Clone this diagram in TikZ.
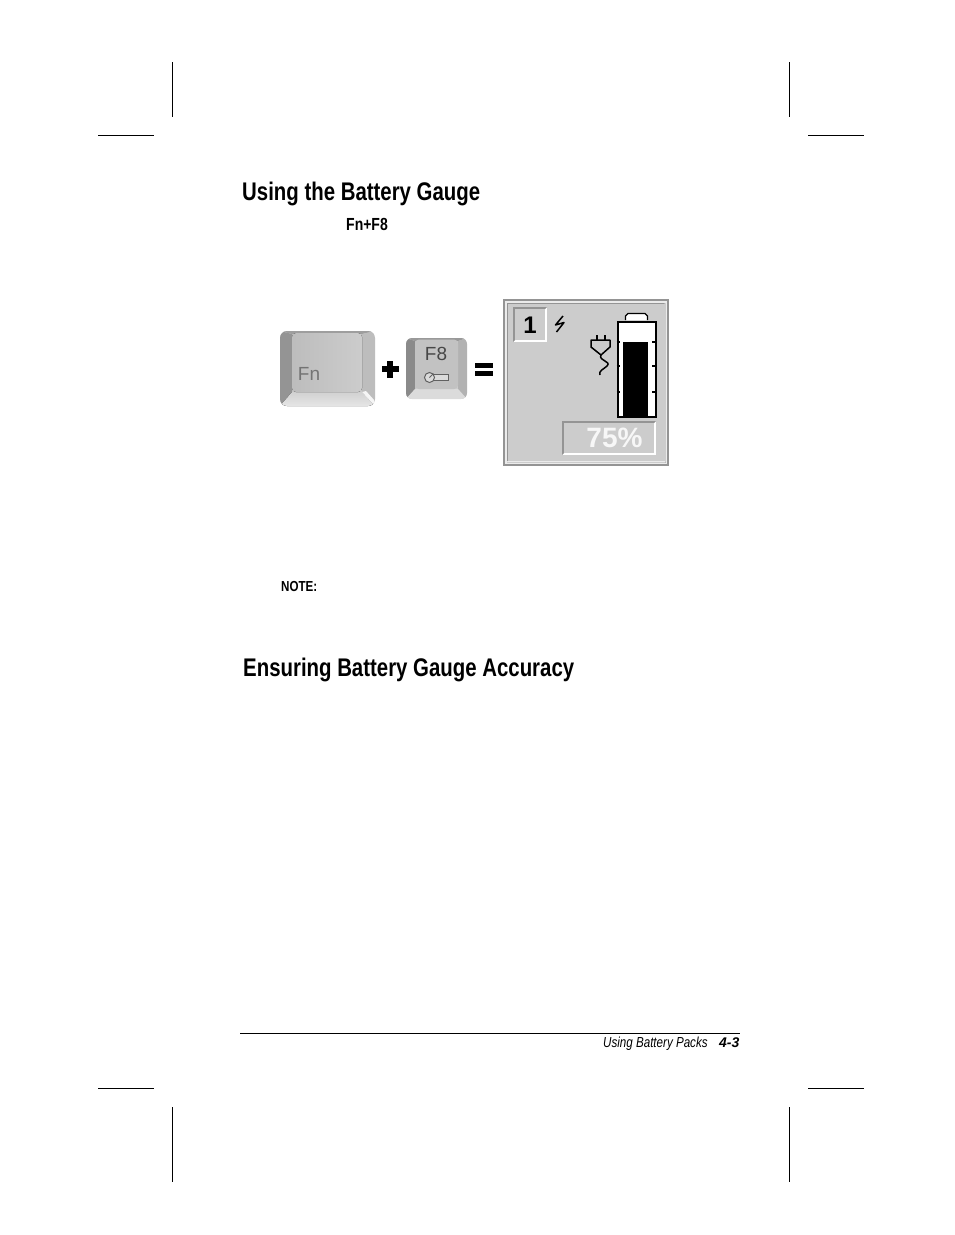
\documentclass[tikz,border=0pt]{standalone}
\usepackage{fontspec}
\setmainfont{Liberation Sans}[FakeStretch=0.80]
\newfontfamily\panelfont{Liberation Sans}
\usepackage{tikz}
\definecolor{panelgray}{gray}{.80}
\definecolor{edgegray}{gray}{.58}

\begin{document}
\begin{tikzpicture}[x=1pt,y=-1pt,
  crop mark/.style={draw=black,line width=.9pt},
  heading/.style={anchor=base west,inner sep=0,font=\fontsize{25.5}{28}\selectfont\bfseries},
  small head/.style={anchor=base west,inner sep=0,font=\fontsize{17.5}{19}\selectfont\bfseries},
  foot text/.style={anchor=base west,inner sep=0,font=\fontsize{14.5}{16}\selectfont\itshape},
  key label/.style={inner sep=0,text=black!55,font=\panelfont\fontsize{19}{20}\selectfont},
  sunken/.style={inner sep=0},
  wire/.style={draw=black,line width=1.5pt,line join=round}]
  \useasboundingbox[fill=white] (0,0) rectangle (954,1235);

  % crop marks
  \coordinate (tl1) at (172.5,62);  \coordinate (tl2) at (172.5,117);
  \coordinate (tl3) at (98,135);    \coordinate (tl4) at (154,135);
  \coordinate (tr1) at (789,62);    \coordinate (tr2) at (789,117);
  \coordinate (tr3) at (808,135);   \coordinate (tr4) at (864,135);
  \coordinate (bl1) at (172.5,1107);\coordinate (bl2) at (172.5,1182);
  \coordinate (bl3) at (98,1088);   \coordinate (bl4) at (154,1088);
  \coordinate (br1) at (789,1107);  \coordinate (br2) at (789,1182);
  \coordinate (br3) at (808,1088);  \coordinate (br4) at (864,1088);
  \draw[crop mark] (tl1) -- (tl2) (tl3) -- (tl4) (tr1) -- (tr2) (tr3) -- (tr4);
  \draw[crop mark] (bl1) -- (bl2) (bl3) -- (bl4) (br1) -- (br2) (br3) -- (br4);

  % texts
  \node[heading] (gauge head) at (242,200) {Using the Battery Gauge};
  \node[small head] (fn f8) at (346,230) {Fn+F8};
  \node[small head,font=\fontsize{14.5}{16}\selectfont\bfseries] (note) at (281,591) {NOTE:};
  \node[heading] (accuracy head) at (243,676) {Ensuring Battery Gauge Accuracy};

  % footer
  \coordinate (rule a) at (240,1033.5);
  \coordinate (rule b) at (740,1033.5);
  \draw[crop mark] (rule a) -- (rule b);
  \node[foot text] (foot title) at (603,1047) {Using Battery Packs};
  \node[foot text,font=\panelfont\fontsize{14}{16}\selectfont\bfseries\itshape] (foot page) at (719,1047) {4-3};

  % Fn key
  \begin{scope}
    \clip[rounded corners=7pt] (280,331) rectangle (375,406);
    \fill[black!20] (280,331) rectangle (375,406);
    \fill[black!42] (280,331) -- (292,334) -- (292,392) -- (280,406) -- cycle;
    \fill[black!38] (280,331) -- (375,331) -- (362,334) -- (292,334) -- cycle;
    \fill[black!26] (375,331) -- (362,334) -- (362,392) -- (375,406) -- cycle;
    \fill[top color=black!18,bottom color=black!10] (280,406) -- (292,392) -- (362,392) -- (375,406) -- cycle;
    \fill[black!4] (362,392) -- (366,391) -- (375,401) -- (375,406) -- cycle;
    \fill[rounded corners=4pt,left color=black!26,right color=black!20] (292,333) rectangle (362,392);
  \end{scope}
  \node[key label] (fn label) at (309,374) {Fn};

  % F8 key
  \begin{scope}
    \clip[rounded corners=6pt] (406,338) rectangle (467,399);
    \fill[black!20] (406,338) rectangle (467,399);
    \fill[black!46] (406,338) -- (415,341) -- (415,389) -- (406,399) -- cycle;
    \fill[black!40] (406,338) -- (467,338) -- (458,341) -- (415,341) -- cycle;
    \fill[black!30] (467,338) -- (458,341) -- (458,389) -- (467,399) -- cycle;
    \fill[black!14] (406,399) -- (415,389) -- (458,389) -- (467,399) -- cycle;
    \fill[rounded corners=4pt,black!24] (415,339.5) rectangle (458,389);
  \end{scope}
  \node[key label,text=black!72] (f8 label) at (436,354) {F8};
  \node[draw=black!62,line width=1pt,minimum width=15pt,minimum height=6pt,inner sep=0,anchor=west,fill=black!14] (gauge cell) at (433,377.5) {};
  \node[draw=black!62,line width=1pt,circle,minimum size=10pt,inner sep=0,fill=black!14] (gauge dial) at (429.5,377.5) {};
  \draw[black!62,line width=.8pt] (gauge dial.center) -- (gauge dial.45);

  % plus, equals
  \node[fill=black,minimum width=17pt,minimum height=5.5pt,inner sep=0] (plus h) at (390,369) {};
  \node[fill=black,minimum width=5.5pt,minimum height=17pt,inner sep=0] (plus v) at (390,369) {};
  \node[fill=black,minimum width=18pt,minimum height=4.5pt,inner sep=0] (equal a) at (484,365.5) {};
  \node[fill=black,minimum width=18pt,minimum height=4.5pt,inner sep=0] (equal b) at (484,373.5) {};

  % gauge panel
  \fill[edgegray] (503,299) rectangle (669,466);
  \fill[black!8] (505,301) rectangle (667,464);
  \fill[edgegray] (506.5,302.5) rectangle (665.5,462.5);
  \fill[black!8] (507.5,461) -- (664.5,461) -- (664.5,303.5) -- (665.5,302.5) -- (665.5,462.5) -- (506.5,462.5) -- cycle;
  \fill[panelgray] (507.5,303.5) rectangle (664.5,461);
  % inset boxes
  \fill[white] (513,307) rectangle (547,342);
  \fill[edgegray] (513,307) -- (547,307) -- (545,309) -- (515,309) -- (515,340) -- (513,342) -- cycle;
  \fill[panelgray] (515,309) rectangle (545,340);
  \node[sunken,font=\panelfont\fontsize{24}{25}\selectfont\bfseries] (pack number) at (530,325) {1};
  \fill[white] (562,421) rectangle (656,455);
  \fill[edgegray] (562,421) -- (656,421) -- (654,423) -- (564,423) -- (564,453) -- (562,455) -- cycle;
  \fill[panelgray] (564,423) rectangle (654,453);
  \node[sunken,text=black!3,font=\panelfont\fontsize{28}{30}\selectfont\bfseries] (percent) at (614.5,438) {75\%};

  % bolt
  \coordinate (bolt a) at (563,316);
  \coordinate (bolt b) at (555.5,325);
  \coordinate (bolt c) at (564,322.5);
  \coordinate (bolt d) at (556.5,332);
  \draw[wire] (bolt a) -- (bolt b) -- (bolt c) -- (bolt d);

  % plug
  \coordinate (prong a) at (597,335);
  \coordinate (prong b) at (605,335);
  \coordinate (prong c) at (597,340);
  \coordinate (prong d) at (605,340);
  \coordinate (head l) at (591,340);
  \coordinate (head r) at (610,340);
  \coordinate (cord a) at (601,355);
  \coordinate (cord b) at (600,375);
  \draw[wire,line width=1.8pt] (prong a) -- (prong c) (prong b) -- (prong d);
  \draw[wire] (head l) -- (head r) -- (610,347) -- (cord a) -- (591,347) -- cycle;
  \draw[wire] (cord a) .. controls (598,361) and (612,361) .. (607,366) .. controls (604,369) and (598,371) .. (cord b);

  % battery
  \draw[draw=black,line width=1.3pt,fill=white] (625.5,320) -- (625.5,316) -- (628,313.5) -- (645,313.5) -- (647.5,316) -- (647.5,320);
  \node[draw=black,line width=2pt,fill=white,minimum width=38pt,minimum height=94.5pt,inner sep=0,anchor=north west] (battery) at (616.5,321) {};
  \node[fill=black,minimum width=25pt,minimum height=74pt,inner sep=0,anchor=south] (charge) at (635.5,416) {};
  \foreach \y in {342,366,392} {
    \draw[line width=1.3pt] (616.5,\y) -- (620,\y);
    \draw[line width=1.3pt] (652,\y) -- (655.5,\y);
  }
\end{tikzpicture}
\end{document}
